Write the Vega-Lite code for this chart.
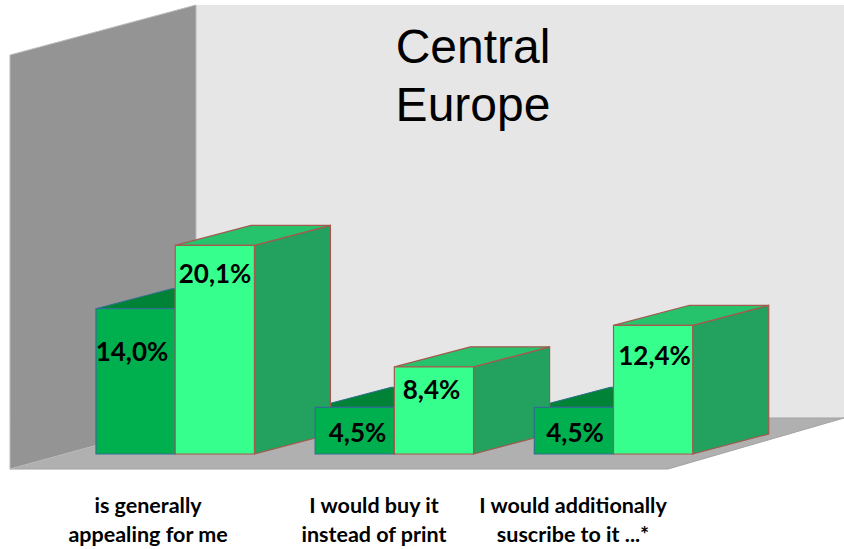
{
"$schema":"https://vega.github.io/schema/vega-lite/v6.json",
"width":844,"height":549,"padding":0,"autosize":"none",
"background":"#ffffff","view":{"stroke":null},
"config":{"view":{"stroke":null}},
"datasets":{
"bars":[
{"category":"is generally appealing for me","g":0,"s":0,"series":"dark","value":14.0,"label":"14,0%","labelAt":9.73,"labelX":0.4545},
{"category":"is generally appealing for me","g":0,"s":1,"series":"light","value":20.1,"label":"20,1%","labelAt":17.24,"labelX":1.503},
{"category":"I would buy it instead of print","g":1,"s":0,"series":"dark","value":4.5,"label":"4,5%","labelAt":1.93,"labelX":3.302},
{"category":"I would buy it instead of print","g":1,"s":1,"series":"light","value":8.4,"label":"8,4%","labelAt":6.07,"labelX":4.236},
{"category":"I would additionally suscribe to it","g":2,"s":0,"series":"dark","value":4.5,"label":"4,5%","labelAt":1.93,"labelX":6.048},
{"category":"I would additionally suscribe to it","g":2,"s":1,"series":"light","value":12.4,"label":"12,4%","labelAt":9.34,"labelX":7.052}
],
"leftWall":[{"x":-1.086,"y":38.44,"y2":-1.445},{"x":1.263,"y":43.26,"y2":3.47}],
"floor":[{"y":-1.445,"x":-1.086,"x2":7.222},{"y":3.47,"x":1.263,"x2":9.444}],
"backWall":[{"x":1.263,"x2":9.444,"y":3.47,"y2":43.26}],
"xLabels":[
{"text":"is generally\nappealing for me","x":0.657,"y":-5.06},
{"text":"I would buy it\ninstead of print","x":3.510,"y":-5.06},
{"text":"I would additionally\nsuscribe to it ...*","x":6.023,"y":-5.06}
],
"title":[{"text":"Central\nEurope","x":4.76,"y":39.0}]
},
"data":{"name":"bars"},
"transform":[
{"calculate":"datum.g*2.767+datum.s","as":"left"},
{"calculate":"datum.left+1","as":"right"},
{"calculate":"[0,1]","as":"t"},
{"flatten":["t"]},
{"calculate":"datum.value+datum.t*1.93","as":"yTop"},
{"calculate":"datum.t*1.93","as":"yBase"},
{"calculate":"datum.right+datum.t*0.96","as":"xSide"},
{"calculate":"datum.left+datum.t*0.96","as":"xTopL"},
{"calculate":"datum.right+datum.t*0.96","as":"xTopR"},
{"calculate":"0","as":"zero"}
],
"encoding":{
"x":{"type":"quantitative","scale":{"domain":[-1.212,9.444],"nice":false,"zero":false},"axis":null},
"y":{"type":"quantitative","scale":{"domain":[-9.15,43.74],"nice":false,"zero":false},"axis":null}
},
"layer":[
{"data":{"name":"backWall"},"mark":{"type":"rect","fill":"#e6e6e6"},
"encoding":{"x":{"field":"x"},"x2":{"field":"x2"},"y":{"field":"y"},"y2":{"field":"y2"}}},
{"data":{"name":"floor"},"mark":{"type":"area","orient":"horizontal","fill":"#b0b0b0","stroke":"#a3a3a3","strokeWidth":1},
"encoding":{"y":{"field":"y","stack":null},"x":{"field":"x"},"x2":{"field":"x2"}}},
{"data":{"name":"leftWall"},"mark":{"type":"area","fill":"#949494","stroke":"#bdbdbd","strokeWidth":1},
"encoding":{"x":{"field":"x"},"y":{"field":"y","stack":null},"y2":{"field":"y2"}}},
{"transform":[{"filter":"datum.s==0"}],"mark":{"type":"area","fill":"#0f8f4a","stroke":"#2f6f8f","strokeWidth":1},
"encoding":{"x":{"field":"xSide"},"y":{"field":"yTop","stack":null},"y2":{"field":"yBase"},"detail":{"field":"category"}}},
{"transform":[{"filter":"datum.s==0"}],"mark":{"type":"area","orient":"horizontal","fill":"#008237","stroke":"#2f6f8f","strokeWidth":1},
"encoding":{"y":{"field":"yTop","stack":null},"x":{"field":"xTopL"},"x2":{"field":"xTopR"},"detail":{"field":"category"}}},
{"transform":[{"filter":"datum.s==1"}],"mark":{"type":"area","fill":"#23a15e","stroke":"#a5594f","strokeWidth":1.2},
"encoding":{"x":{"field":"xSide"},"y":{"field":"yTop","stack":null},"y2":{"field":"yBase"},"detail":{"field":"category"}}},
{"transform":[{"filter":"datum.s==1"}],"mark":{"type":"area","orient":"horizontal","fill":"#27c36c","stroke":"#a5594f","strokeWidth":1.2},
"encoding":{"y":{"field":"yTop","stack":null},"x":{"field":"xTopL"},"x2":{"field":"xTopR"},"detail":{"field":"category"}}},
{"transform":[{"filter":"datum.s==0 && datum.t==0"}],"mark":{"type":"rect","fill":"#00b04f","stroke":"#2f6f8f","strokeWidth":1.2},
"encoding":{"x":{"field":"left"},"x2":{"field":"right"},"y":{"field":"value"},"y2":{"field":"zero"}}},
{"transform":[{"filter":"datum.s==1 && datum.t==0"}],"mark":{"type":"rect","fill":"#36ff8d","stroke":"#a5594f","strokeWidth":1.2},
"encoding":{"x":{"field":"left"},"x2":{"field":"right"},"y":{"field":"value"},"y2":{"field":"zero"}}},
{"transform":[{"filter":"datum.t==0"}],"mark":{"type":"text","font":"Lato","fontWeight":"bold","fontSize":26,"color":"#000000","align":"center","baseline":"middle"},
"encoding":{"x":{"field":"labelX"},"y":{"field":"labelAt"},"text":{"field":"label"}}},
{"data":{"name":"xLabels"},"mark":{"type":"text","font":"Lato","fontWeight":"bold","fontSize":21.5,"color":"#000000","align":"center","baseline":"middle","lineBreak":"\n","lineHeight":29},
"encoding":{"x":{"field":"x"},"y":{"field":"y"},"text":{"field":"text"}}},
{"data":{"name":"title"},"mark":{"type":"text","font":"Liberation Sans","fontSize":48,"color":"#000000","align":"center","baseline":"middle","lineBreak":"\n","lineHeight":58},
"encoding":{"x":{"field":"x"},"y":{"field":"y"},"text":{"field":"text"}}}
]
}
